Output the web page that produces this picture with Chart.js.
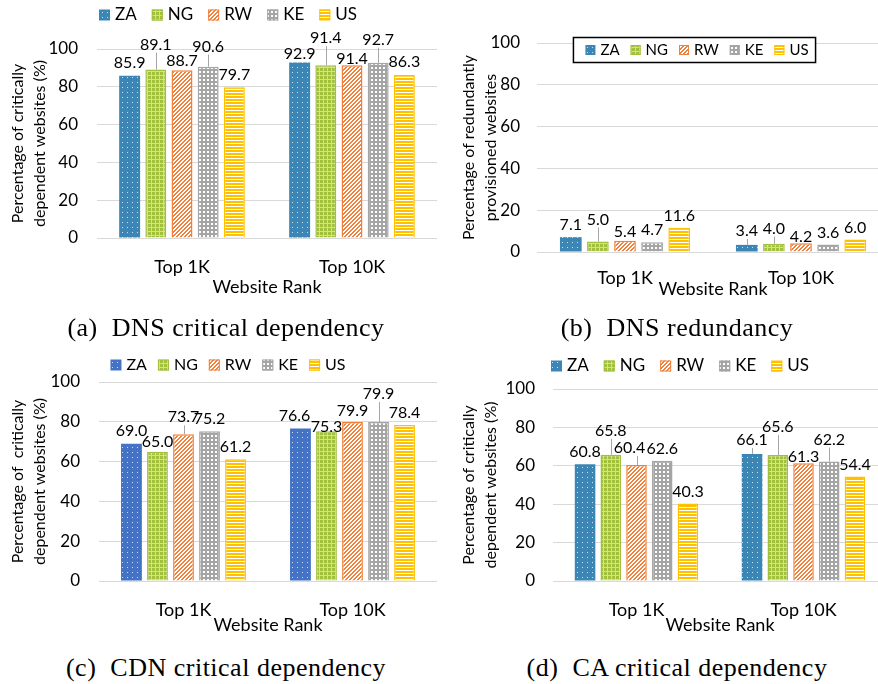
<!DOCTYPE html>
<html>
<head>
<meta charset="utf-8">
<script src="https://cdn.jsdelivr.net/npm/chart.js@4.4.1/dist/chart.umd.min.js"></script>
<style>
  html, body { margin: 0; padding: 0; background: #fff; }
  body { width: 878px; height: 684px; position: relative; overflow: hidden; }
  canvas { position: absolute; }
  .cap { position: absolute; font-family: "Liberation Serif", serif; font-size: 26px; letter-spacing: 0.5px; white-space: pre; transform: translateX(-50%); color: #000; }
</style>
</head>
<body>
<canvas id="dns" width="440" height="300" style="left:0;top:0"></canvas>
<canvas id="red" width="452" height="300" style="left:440px;top:0"></canvas>
<canvas id="cdn" width="440" height="300" style="left:0;top:340px"></canvas>
<canvas id="ca" width="450" height="300" style="left:440px;top:340px"></canvas>
<div class="cap" style="left:226px;top:313px">(a)  DNS critical dependency</div>
<div class="cap" style="left:677px;top:313px">(b)  DNS redundancy</div>
<div class="cap" style="left:226px;top:653px">(c)  CDN critical dependency</div>
<div class="cap" style="left:677px;top:653px">(d)  CA critical dependency</div>
<script>
const categories = ['Top 1K', 'Top 10K'];
const countries = ['ZA', 'NG', 'RW', 'KE', 'US'];
const yTicks = [0, 20, 40, 60, 80, 100];
// one row per country: [Top 1K, Top 10K]
const dnsCritical = [[85.9, 92.9], [89.1, 91.4], [88.7, 91.4], [90.6, 92.7], [79.7, 86.3]];
const dnsRedundant = [[7.1, 3.4], [5.0, 4.0], [5.4, 4.2], [4.7, 3.6], [11.6, 6.0]];
const cdnCritical = [[69.0, 76.6], [65.0, 75.3], [73.7, 79.9], [75.2, 79.9], [61.2, 78.4]];
const caCritical = [[60.8, 66.1], [65.8, 65.6], [60.4, 61.3], [62.6, 62.2], [40.3, 54.4]];

const GREEN = '#A3C03D', ORANGE = '#F0813A', GRAY = '#A5A5A5', YELLOW = '#FFC000';

function pattern(kind, color) {
    const c = document.createElement('canvas');
    const g = c.getContext('2d');
    c.width = 4; c.height = 4;
    if (kind === 'dots') {
        c.width = 5; c.height = 5;
        g.fillStyle = color; g.fillRect(0, 0, 5, 5);
        g.fillStyle = 'rgba(255,255,255,0.75)'; g.fillRect(2, 2, 1, 1);
    } else if (kind === 'mesh') {
        g.fillStyle = color; g.fillRect(0, 0, 4, 4);
        g.fillStyle = 'rgba(255,255,255,0.5)';
        g.fillRect(0, 3, 4, 1); g.fillRect(3, 0, 1, 3);
    } else if (kind === 'diag') {
        g.fillStyle = '#fff'; g.fillRect(0, 0, 4, 4);
        g.fillStyle = color;
        for (let x = 0; x < 4; x++)
            for (let y = 0; y < 4; y++)
                if ((x + y) % 4 < 2) g.fillRect(x, y, 1, 1);
    } else if (kind === 'cross') {
        g.fillStyle = '#fff'; g.fillRect(0, 0, 4, 4);
        g.fillStyle = color;
        g.fillRect(1, 0, 2, 4); g.fillRect(0, 1, 4, 2);
    } else {
        c.width = 3; c.height = 3;
        g.fillStyle = '#fff'; g.fillRect(0, 0, 3, 3);
        g.fillStyle = color; g.fillRect(0, 0, 3, 2);
    }
    return g.createPattern(c, 'repeat');
}

function makeDatasets(values, blue) {
    const fills = [['dots', blue], ['mesh', GREEN], ['diag', ORANGE], ['cross', GRAY], ['lines', YELLOW]];
    return countries.map((name, i) => ({
        label: name,
        data: values[i],
        backgroundColor: pattern(fills[i][0], fills[i][1]),
        borderColor: fills[i][1],
        borderWidth: i === 0 ? 0 : 1.5,
        categoryPercentage: 0.77,
        barPercentage: 0.8
    }));
}

// legend row drawn by hand so it can sit where the original has it
function legendPlugin(lg) {
    return {
        id: 'legendRow',
        afterDraw(chart) {
            const ctx = chart.ctx;
            ctx.save();
            ctx.font = lg.size + 'px Lato';
            ctx.textBaseline = 'middle';
            const box = lg.box, gap = 5, space = lg.space;
            const items = chart.data.datasets.map(ds => ({ ds: ds, w: box + gap + ctx.measureText(ds.label).width }));
            const total = items.reduce((s, it) => s + it.w, 0) + space * (items.length - 1);
            let x = lg.cx - total / 2;
            const cy = lg.cy;
            if (lg.framed) {
                ctx.fillStyle = '#fff';
                ctx.fillRect(x - 12, cy - 12.5, total + 19, 25);
                ctx.strokeStyle = '#000'; ctx.lineWidth = 1.5;
                ctx.strokeRect(x - 12, cy - 12.5, total + 19, 25);
            }
            items.forEach(it => {
                ctx.fillStyle = it.ds.backgroundColor;
                ctx.fillRect(x, cy - box / 2, box, box);
                if (it.ds.borderWidth) {
                    ctx.strokeStyle = it.ds.borderColor; ctx.lineWidth = 1;
                    ctx.strokeRect(x + 0.5, cy - box / 2 + 0.5, box - 1, box - 1);
                }
                ctx.fillStyle = '#000';
                ctx.fillText(it.ds.label, x + box + gap, cy);
                x += it.w + space;
            });
            ctx.restore();
        }
    };
}

// value labels, some raised with a thin leader line like in the original
function labelPlugin(lift, dx) {
    return {
        id: 'valueLabels',
        afterDatasetsDraw(chart) {
            const ctx = chart.ctx;
            ctx.save();
            ctx.font = '16px Lato';
            ctx.textAlign = 'center';
            ctx.textBaseline = 'middle';
            chart.data.datasets.forEach((ds, i) => {
                chart.getDatasetMeta(i).data.forEach((bar, j) => {
                    const up = lift[i][j];
                    const cy = bar.y - 12 - up;
                    if (up >= 2) {
                        const lx = Math.round(bar.x) + 0.5;
                        ctx.strokeStyle = '#A6A6A6'; ctx.lineWidth = 1;
                        ctx.beginPath(); ctx.moveTo(lx, bar.y); ctx.lineTo(lx, cy + 8); ctx.stroke();
                    }
                    ctx.fillStyle = '#000';
                    ctx.fillText(ds.data[j].toFixed(1), bar.x + ((dx && dx[i][j]) || 0), cy);
                });
            });
            ctx.restore();
        }
    };
}

function drawPanel(id, values, blue, p) {
    new Chart(document.getElementById(id), {
        type: 'bar',
        data: { labels: categories, datasets: makeDatasets(values, blue) },
        options: {
            responsive: false,
            animation: false,
            layout: { padding: { left: 0, top: p.top, right: p.right, bottom: p.bottom } },
            plugins: { legend: { display: false }, tooltip: { enabled: false } },
            scales: {
                x: {
                    grid: { display: false },
                    border: { display: false },
                    ticks: { padding: p.tickPad, color: '#000', font: { family: 'Lato', size: 18 } },
                    title: { display: true, text: 'Website Rank', color: '#000', padding: 0, font: { family: 'Lato', size: 18 } },
                    afterFit: s => { s.height = p.xHeight; }
                },
                y: {
                    min: 0,
                    max: 100,
                    afterBuildTicks: s => { s.ticks = yTicks.map(v => ({ value: v })); },
                    grid: { color: '#D9D9D9', drawTicks: false },
                    border: { display: false },
                    ticks: { padding: p.yPad, color: '#000', font: { family: 'Lato', size: 17 } },
                    title: {
                        display: true, text: p.yTitle, color: '#000',
                        padding: { top: p.titlePad, bottom: 0 },
                        font: { family: 'Lato', size: 16, lineHeight: '22px' }
                    },
                    afterFit: s => { s.width = p.yWidth; }
                }
            }
        },
        plugins: [legendPlugin(p.legend), labelPlugin(p.lift, p.dx)]
    });
}

drawPanel('dns', dnsCritical, '#3C86B6', {
    top: 49, right: 3, bottom: 2, xHeight: 60, yWidth: 97, yPad: 19, titlePad: 7, tickPad: 10,
    yTitle: ['Percentage of critically', 'dependent websites (%)'],
    legend: { cx: 228, cy: 15, size: 17, box: 11, space: 15, framed: false },
    lift: [[1, -3], [13, 15], [-2, -6], [8, 11], [1, 1]]
});

drawPanel('red', dnsRedundant, '#3C86B6', {
    top: 43, right: 3, bottom: 0, xHeight: 48, yWidth: 97, yPad: 17, titlePad: 18, tickPad: 7,
    yTitle: ['Percentage of redundantly', 'provisioned websites'],
    legend: { cx: 257, cy: 50, size: 15, box: 10, space: 11, framed: true },
    lift: [[0, 2], [10, 3], [-3, -6], [0, 0], [0, 0]]
});

drawPanel('cdn', cdnCritical, '#4472C4', {
    top: 42, right: 3, bottom: 4, xHeight: 55, yWidth: 99, yPad: 19, titlePad: 7, tickPad: 10,
    yTitle: ['Percentage of  critically', 'dependent websites (%)'],
    legend: { cx: 228, cy: 25, size: 16, box: 11, space: 11, framed: false },
    lift: [[1, 1], [-2, -8], [5, -1], [1, 16], [0, 0]],
    dx: [[0, -6], [0, 0], [0, 0], [0, 0], [0, 0]]
});

drawPanel('ca', caCritical, '#3C86B6', {
    top: 49, right: 3, bottom: 4, xHeight: 55, yWidth: 113, yPad: 18, titlePad: 18, tickPad: 10,
    yTitle: ['Percentage of critically', 'dependent websites (%)'],
    legend: { cx: 240, cy: 26, size: 17, box: 11, space: 15, framed: false },
    lift: [[0, 2], [12, 16], [5, -6], [0, 10], [0, 0]],
    dx: [[0, 0], [0, 0], [-7, 0], [0, 0], [0, 0]]
});
</script>
</body>
</html>
